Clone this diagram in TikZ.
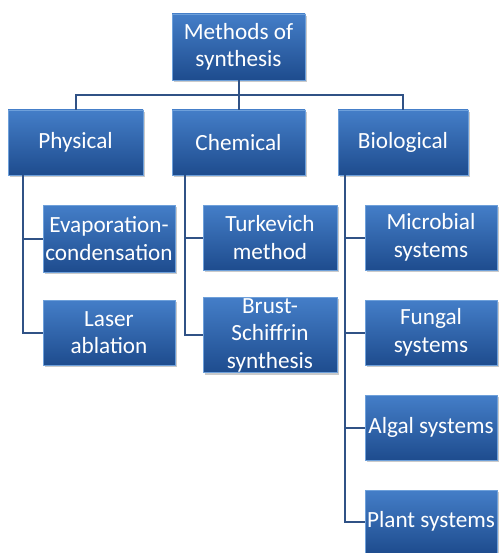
\documentclass[tikz,border=0pt]{standalone}
\usepackage{fontspec}
\setmainfont{Carlito}
\usetikzlibrary{shadows}
\definecolor{boxtop}{RGB}{68,126,200}
\definecolor{boxmid}{RGB}{42,96,170}
\definecolor{boxbot}{RGB}{30,76,142}
\definecolor{boxedge}{RGB}{110,160,218}
\definecolor{linkc}{RGB}{48,82,134}
\tikzset{
  mbox/.style={draw=boxedge, line width=0.8pt, top color=boxtop, middle color=boxmid, bottom color=boxbot,
    text=white, align=center, inner sep=1pt,
    font=\fontsize{23.2}{27.5}\selectfont,
    drop shadow={shadow xshift=2pt, shadow yshift=-2pt, fill=black!35, opacity=0.6}},
  link/.style={draw=linkc, line width=2pt}
}
\begin{document}
\begin{tikzpicture}[x=1pt,y=-1pt]
\useasboundingbox (0,0) rectangle (499,553);
\coordinate (hub) at (238.5,95);
\coordinate (pv) at (23,175);
\coordinate (cv) at (185,175);
\coordinate (bv) at (345,175);

\node[mbox, minimum width=133pt, minimum height=66pt] (top) at (238.5,47) {Methods of\\synthesis};
\node[mbox, minimum width=135pt, minimum height=65pt] (phys) at (75.5,142.5) {Physical};
\node[mbox, minimum width=133pt, minimum height=65pt] (chem) at (238.5,142.5) {Chemical};
\node[mbox, minimum width=130pt, minimum height=65pt] (bio) at (403,142.5) {Biological};

\draw[link] (top.south) -- (hub);
\draw[link] (phys.north) |- (hub) -| (bio.north);
\draw[link] (hub) -- (chem.north);

\node[mbox, minimum width=132pt, minimum height=67pt] (evap) at (109,238.5) {Evaporation-\\condensation};
\node[mbox, minimum width=132pt, minimum height=65pt] (laser) at (109,332.5) {Laser\\ablation};

\node[mbox, minimum width=134pt, minimum height=65pt] (turk) at (270,237.5) {Turkevich\\method};
\node[mbox, minimum width=134pt, minimum height=70pt] (brust) at (270,335) {Brust-\\Schiffrin\\synthesis};

\node[mbox, minimum width=132pt, minimum height=65pt] (micro) at (431,237.5) {Microbial\\systems};
\node[mbox, minimum width=132pt, minimum height=65pt] (fungal) at (431,332.5) {Fungal\\systems};
\node[mbox, minimum width=132pt, minimum height=65pt] (algal) at (431,427.5) {Algal systems};
\node[mbox, minimum width=132pt, minimum height=63pt] (plant) at (431,521.5) {Plant systems};

\draw[link] (pv) |- (evap.west);
\draw[link] (pv) |- (laser.west);
\draw[link] (cv) |- (turk.west);
\draw[link] (cv) |- (brust.west);
\draw[link] (bv) |- (micro.west);
\draw[link] (bv) |- (fungal.west);
\draw[link] (bv) |- (algal.west);
\draw[link] (bv) |- (plant.west);
\end{tikzpicture}
\end{document}
